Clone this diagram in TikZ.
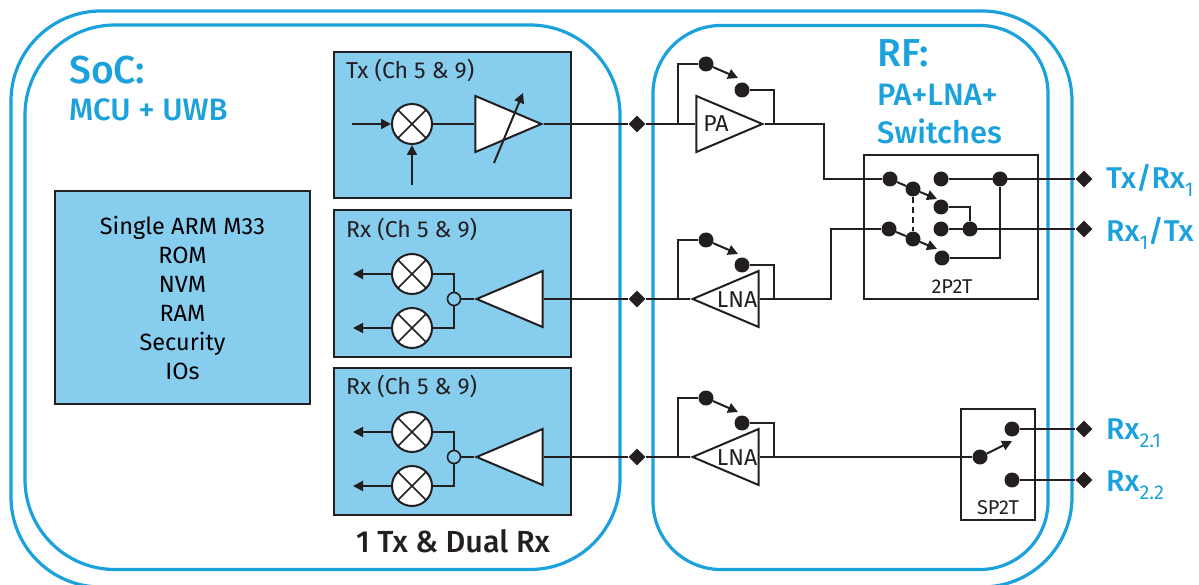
\documentclass[tikz,border=0pt]{standalone}
\usepackage{fontspec}
\setmainfont{Fira Sans}[BoldFont=Fira Sans Medium]
\usetikzlibrary{arrows.meta,positioning,shapes.geometric}
\definecolor{socblue}{HTML}{1BA1DC}
\definecolor{boxblue}{HTML}{87CDEE}
\definecolor{ink}{HTML}{231F20}
\newcommand{\pinsub}[1]{\raisebox{-8pt}{\fontsize{20}{20}\selectfont\mdseries #1}}
\tikzset{
    >={Stealth[length=10pt,width=10pt,inset=0pt]},
    frame/.style={draw=socblue,line width=3.2pt,rounded corners=#1},
    block/.style={rectangle,draw=ink,fill=boxblue,line width=2pt,inner sep=0pt},
    swbox/.style={rectangle,draw=ink,line width=2pt,inner sep=0pt},
    dot/.style={circle,fill=ink,inner sep=0pt,minimum size=15pt},
    pin/.style={diamond,fill=ink,inner sep=0pt,minimum size=17pt},
    split/.style={circle,draw=ink,fill=boxblue,line width=1.6pt,inner sep=0pt,minimum size=13pt},
    mixer/.style={circle,draw=ink,fill=white,line width=2pt,inner sep=0pt,minimum size=40pt,
                  path picture={
                    \draw[ink,line width=1.6pt] (path picture bounding box.south west) -- (path picture bounding box.north east)
                        (path picture bounding box.north west) -- (path picture bounding box.south east);}},
    amp/.style={isosceles triangle,isosceles triangle stretches,draw=ink,fill=white,line width=2pt,
                inner sep=0pt,minimum width=56pt,minimum height=66pt},
    wire/.style={draw=ink,line width=2pt},
    post/.style={wire,->},
    blocktext/.style={font=\fontsize{23}{27}\selectfont,text=ink,inner sep=0pt},
    title/.style={font=\fontsize{#1}{#1}\selectfont\bfseries,text=socblue,inner sep=0pt,anchor=base west},
    pinlabel/.style={font=\fontsize{30}{30}\selectfont\bfseries,text=socblue,inner sep=0pt,anchor=base west}
}
\begin{document}
\begin{tikzpicture}[x=1pt,y=-1pt]
    \useasboundingbox (0,0) rectangle (1199,585);
    \begin{scope}
        \clip (0,0) rectangle (1199,585);
        \draw[frame=90pt] (11,11) rectangle (1072,587);
    \end{scope}
    \draw[frame=90pt] (25,25) rectangle (620,569.5);
    \draw[frame=68pt] (653,25.5) rectangle (1048,569.5);

    % SoC side
    \node[title=39] (soc) at (69,84) {SoC:};
    \node[title=31] (mcu) at (69,121) {MCU + UWB};
    \node[block,minimum width=255pt,minimum height=213pt,align=center,
          font=\fontsize{23.5}{29}\selectfont] (cpu) at (182.5,297.5)
        {Single ARM M33\\ROM\\NVM\\RAM\\Security\\IOs};

    \node[block,minimum width=237pt,minimum height=146pt] (txblock) at (452.5,125) {};
    \node[block,minimum width=237pt,minimum height=147pt] (rxblocka) at (452.5,283.5) {};
    \node[block,minimum width=237pt,minimum height=147pt] (rxblockb) at (452.5,441.5) {};
    \node[blocktext,anchor=north west] (txname) at (346,59) {Tx (Ch 5 \& 9)};
    \node[blocktext,anchor=north west] (rxnamea) at (346,218) {Rx (Ch 5 \& 9)};
    \node[blocktext,anchor=north west] (rxnameb) at (346,375) {Rx (Ch 5 \& 9)};
    \node[font=\fontsize{30.5}{30.5}\selectfont\bfseries,text=ink,inner sep=0pt] (dual) at (453,541) {1 Tx \& Dual Rx};

    % Tx chain
    \node[mixer] (txmix) at (412,124) {};
    \node[amp,anchor=apex] (txamp) at (544,124) {};
    \coordinate (txin) at (352,124);
    \coordinate (txlo) at (412,185);
    \coordinate (gainlo) at (494,163);
    \coordinate (gainhi) at (523,93);
    \draw[post] (txin) -- (txmix);
    \draw[post] (txlo) -- (txmix);
    \draw[wire] (txmix) -- (txamp);
    \draw[post] (gainlo) -- (gainhi);

    % Rx chains
    \foreach \name/\ya/\yb/\yc in {a/274/299/328,b/432/457/486}{
        \node[mixer] (mixtop\name) at (412,\ya) {};
        \node[mixer] (mixbot\name) at (412,\yc) {};
        \node[split] (split\name) at (454,\yb) {};
        \node[amp,shape border rotate=180,anchor=apex] (rxamp\name) at (474,\yb) {};
        \coordinate (outtop\name) at (353,\ya);
        \coordinate (outbot\name) at (353,\yc);
        \draw[post] (mixtop\name) -- (outtop\name);
        \draw[post] (mixbot\name) -- (outbot\name);
        \draw[wire] (mixtop\name) -| (split\name);
        \draw[wire] (mixbot\name) -| (split\name);
        \draw[wire] (split\name) -- (rxamp\name.apex);
    }

    % RF side
    \node[title=39] (rf) at (877,67) {RF:};
    \node[title=31] (palna) at (877,106) {PA+LNA+};
    \node[title=31] (switches) at (877,144) {Switches};

    \node[pin] (pintx) at (637,124) {};
    \node[pin] (pinrxa) at (637,299) {};
    \node[pin] (pinrxb) at (637,457) {};
    \node[amp,anchor=apex] (pa) at (765,124) {};
    \node[amp,shape border rotate=180,anchor=apex] (lnaa) at (690,299) {};
    \node[amp,shape border rotate=180,anchor=apex] (lnab) at (690,457) {};
    \node[blocktext] (patext) at (716,124) {PA};
    \node[blocktext] (lnaatext) at (737,300) {LNA};
    \node[blocktext] (lnabtext) at (737,458) {LNA};

    \draw[wire] (txamp.apex) -- (pintx) -- (pa.lower side);
    \draw[wire] (rxampa.lower side) -- (pinrxa) -- (lnaa.apex);
    \draw[wire] (rxampb.lower side) -- (pinrxb) -- (lnab.apex);

    % bypass switches
    \foreach \name/\ya/\yb/\yc/\yd in {tx/64/78/90/124,a/240/254/265/299,b/398/412/423/457}{
        \node[dot] (byin\name) at (706,\ya) {};
        \node[dot] (byout\name) at (742,\yc) {};
        \coordinate (bytip\name) at (738,\yb);
        \coordinate (byleft\name) at (678,\yd);
        \coordinate (byright\name) at (774,\yd);
        \draw[post] (byin\name) -- (bytip\name);
        \draw[wire] (byleft\name) |- (byin\name);
        \draw[wire] (byright\name) |- (byout\name);
    }

    % 2P2T
    \node[swbox,minimum width=174pt,minimum height=144pt] (dpdt) at (951,227) {};
    \node[blocktext,font=\fontsize{20}{24}\selectfont] (dpdttext) at (952,287) {2P2T};
    \node[dot] (swina) at (890,179) {};
    \node[dot] (swarma) at (913,189) {};
    \node[dot] (swtopa) at (941,179) {};
    \node[dot] (swjoina) at (1000,179) {};
    \node[dot] (swbota) at (941,207) {};
    \node[dot] (swinb) at (889,229) {};
    \node[dot] (swarmb) at (913,239) {};
    \node[dot] (swtopb) at (941,229) {};
    \node[dot] (swjoinb) at (970,229) {};
    \node[dot] (swbotb) at (942,258) {};
    \coordinate (swtipa) at (937,199);
    \coordinate (swtipb) at (937,249);
    \node[pin] (txrx) at (1084,179) {};
    \node[pin] (rxtx) at (1084,229) {};
    \draw[wire] (swina) -- (swarma);
    \draw[wire] (swinb) -- (swarmb);
    \draw[post] (swarma) -- (swtipa);
    \draw[post] (swarmb) -- (swtipb);
    \draw[wire,line width=1.6pt,dash pattern=on 6pt off 4pt] (swarma) -- (swarmb);
    \draw[wire] (swtopa) -- (txrx);
    \draw[wire] (swtopb) -- (rxtx);
    \draw[wire] (swbota) -| (swjoinb);
    \draw[wire] (swbotb) -| (swjoina);
    \draw[wire] (pa.apex) -- (824,124) |- (swina);
    \draw[wire] (lnaa.lower side) -- (831,299) |- (swinb);

    % SP2T
    \node[swbox,minimum width=74pt,minimum height=111pt] (spdt) at (998,464.5) {};
    \node[blocktext,font=\fontsize{20}{24}\selectfont] (spdttext) at (998,508) {SP2T};
    \node[dot] (spin) at (980,457) {};
    \node[dot] (spa) at (1012,429) {};
    \node[dot] (spb) at (1012,480) {};
    \coordinate (sptip) at (1012,441);
    \node[pin] (rxa) at (1084,429) {};
    \node[pin] (rxb) at (1084,480) {};
    \draw[post] (spin) -- (sptip);
    \draw[wire] (lnab.lower side) -- (spin);
    \draw[wire] (spa) -- (rxa);
    \draw[wire] (spb) -- (rxb);

    % pin names
    \node[pinlabel] (txrxname) at (1106,189) {Tx/Rx\pinsub{1}};
    \node[pinlabel] (rxtxname) at (1106,242) {Rx\pinsub{1}/Tx};
    \node[pinlabel] (rxaname) at (1106,439) {Rx\pinsub{2.1}};
    \node[pinlabel] (rxbname) at (1106,491) {Rx\pinsub{2.2}};
\end{tikzpicture}
\end{document}
